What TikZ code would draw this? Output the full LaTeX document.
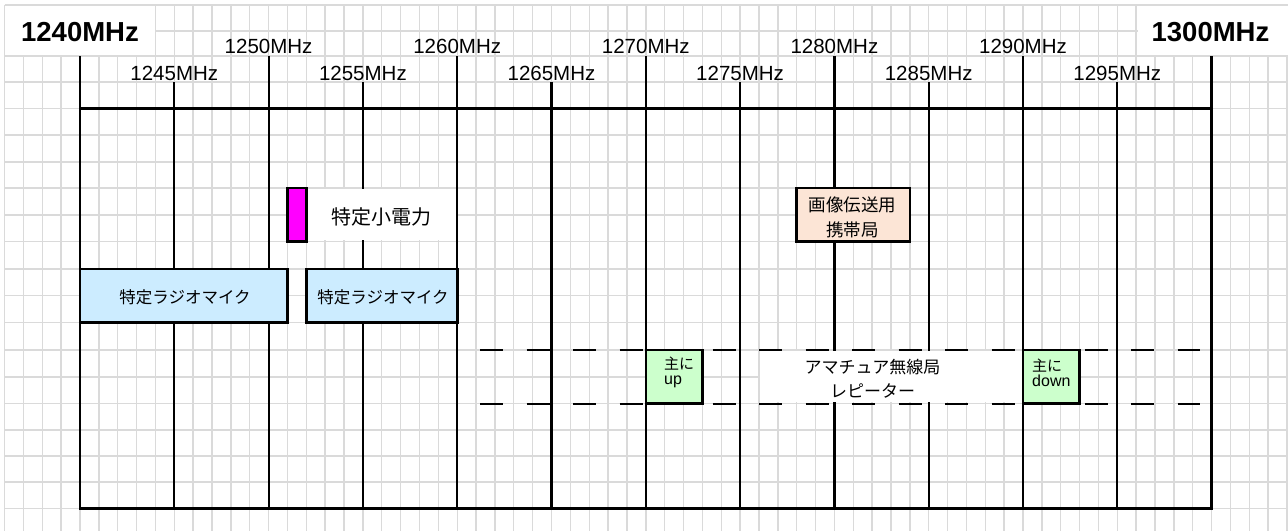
\documentclass[tikz,border=0pt]{standalone}
\usepackage{fontspec}
\setmainfont{Liberation Sans}
\newfontfamily\jp{Noto Sans CJK JP}
\definecolor{gridgray}{RGB}{218,218,218}
\definecolor{micblue}{RGB}{204,236,255}
\definecolor{peach}{RGB}{252,229,214}
\definecolor{lgreen}{RGB}{204,255,204}
\definecolor{mag}{RGB}{255,0,255}
\begin{document}
\begin{tikzpicture}[x=1pt,y=-1pt,
  gridline/.style={gridgray,line width=1.4pt},
  frameline/.style={black,line width=2.8pt,line join=miter},
  tickline/.style={black,line width=2.2pt},
  dashline/.style={black,line width=2pt,dash pattern=on 23pt off 23.5pt},
  bandbox/.style={draw=black,line width=2.6pt,inner sep=0pt,anchor=center},
  whitebox/.style={fill=white,draw=none,inner sep=0pt,anchor=center},
  majlab/.style={anchor=base,inner sep=0pt,font=\fontsize{20.5}{24}\selectfont},
  endlab/.style={anchor=base,inner sep=0pt,font=\bfseries\fontsize{27.5}{30}\selectfont},
  jpbig/.style={inner sep=0pt,font=\jp\fontsize{20}{24}\selectfont},
  jpmic/.style={inner sep=0pt,font=\jp\fontsize{16.5}{20}\selectfont},
  jptwo/.style={inner sep=0pt,align=center},
  jpsmall/.style={anchor=west,inner sep=0pt,align=left,font=\jp\fontsize{15}{15}\selectfont}
]
\useasboundingbox (0,0) rectangle (1288,531);
\fill[white] (0,0) rectangle (1288,531);
% background grid
\foreach \k in {-4,...,64}{
  \draw[gridline] ({80+18.86*\k},5) -- ({80+18.86*\k},531);
}
\foreach \y in {5,31,56,82,108.3,135,162,188,215,241.5,269,295.5,322.5,350,377,403.5,430,456,482,508.3}{
  \draw[gridline] (4.6,\y) -- (1288,\y);
}
% white label areas at the ends
\node[whitebox,minimum width=149.5,minimum height=49.5] (wl) at (80,30.5) {};
\node[whitebox,minimum width=150,minimum height=49.5] (wr) at (1212.5,30.5) {};
% frame
\draw[frameline] (80,56) -- (80,508.3) -- (1211.6,508.3) -- (1211.6,56);
\draw[frameline] (80,108.3) -- (1211.6,108.3);
% major ticks
\foreach \k in {10,20,...,50}{
  \draw[tickline] ({80+18.86*\k},56) -- ({80+18.86*\k},508.3);
  \pgfmathtruncatemacro\f{1240+\k}
  \node[majlab] (lab\k) at ({80+18.86*\k},53) {\f MHz};
}
% minor ticks
\foreach \k in {5,15,...,55}{
  \draw[tickline] ({80+18.86*\k},82) -- ({80+18.86*\k},508.3);
  \pgfmathtruncatemacro\f{1240+\k}
  \node[majlab] (lab\k) at ({80+18.86*\k},80) {\f MHz};
}
\node[endlab] (l1240) at (80,41.7) {1240MHz};
\node[endlab] (l1300) at (1210.5,41.7) {1300MHz};
% white text areas
\node[whitebox,minimum width=148.5,minimum height=51] (wtok) at (381.75,214.75) {};
\node[whitebox,minimum width=261.5,minimum height=51] (wama) at (891,376.75) {};
% amateur band dashed lines
\draw[dashline] (480,350) -- (1200,350);
\draw[dashline] (480,403.5) -- (1200,403.5);
% boxes
\node[bandbox,fill=micblue,minimum width=207.46,minimum height=53.5] (mic1) at (183.73,295.75) {};
\node[bandbox,fill=micblue,minimum width=150.9,minimum height=53.5] (mic2) at (381.75,295.75) {};
\node[bandbox,fill=mag,minimum width=18.86,minimum height=53.5] (tok) at (296.9,214.75) {};
\node[bandbox,fill=peach,minimum width=113.2,minimum height=53.5] (img) at (853.3,214.75) {};
\node[bandbox,fill=lgreen,minimum width=56.6,minimum height=53.5] (gup) at (674.1,376.75) {};
\node[bandbox,fill=lgreen,minimum width=56.6,minimum height=53.5] (gdn) at (1051.3,376.75) {};
% texts
\node[jpmic] (tmic1) at (185,297) {特定ラジオマイク};
\node[jpmic] (tmic2) at (383,297) {特定ラジオマイク};
\node[jpbig] (ttok) at (381,216.5) {特定小電力};
\node[jptwo,font=\jp\fontsize{17.5}{25}\selectfont] (timg) at (852.5,217.5) {画像伝送用\\携帯局};
\node[jptwo,font=\jp\fontsize{17}{23.5}\selectfont] (tama) at (872.5,378.5) {アマチュア無線局\\レピーター};
\node[jpsmall] (tup) at (664,372.5) {主に\\{\rmfamily\fontsize{16}{15}\selectfont up}};
\node[jpsmall] (tdn) at (1032,372.5) {主に\\{\rmfamily\fontsize{16}{15}\selectfont down}};
\end{tikzpicture}
\end{document}
